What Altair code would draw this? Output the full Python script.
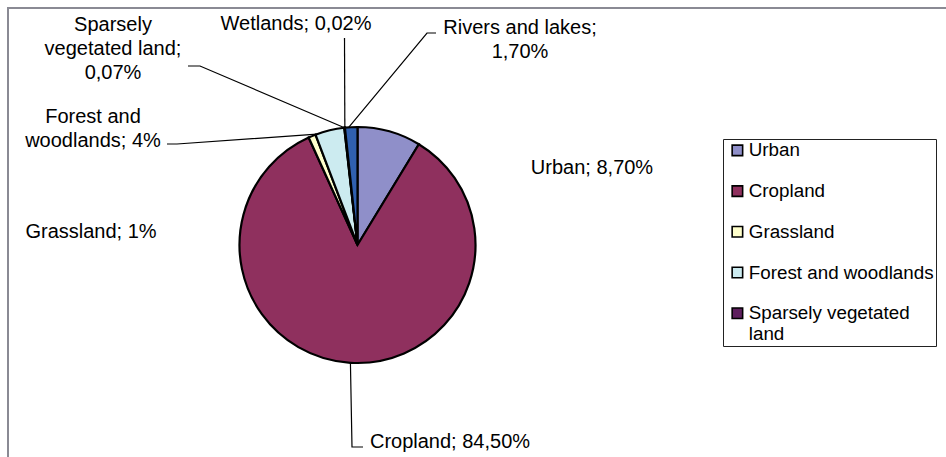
import math
import altair as alt
import pandas as pd

# ---------------- data ----------------
categories = ["Urban", "Cropland", "Grassland", "Forest and woodlands",
              "Sparsely vegetated land", "Wetlands", "Rivers and lakes"]
shares = [8.70, 84.50, 1.0, 4.0, 0.07, 0.02, 1.70]
label_texts = ["Urban; 8,70%", "Cropland; 84,50%", "Grassland; 1%",
               "Forest and\nwoodlands; 4%", "Sparsely\nvegetated land;\n0,07%",
               "Wetlands; 0,02%", "Rivers and lakes;\n1,70%"]
legend_items = categories[:5]
colors = ["#8F8FC9", "#8F305E", "#FFFFCC", "#CCEBF0", "#5E1F5E", "#FF8080", "#3060B0"]

# ---------------- layout (pixels) ----------------
W, H = 946, 457
CX, CY, R = 357.5, 245, 118
FONT = "Liberation Sans"
# label positions: centre x, centre y of first line
label_pos = {
    "Urban": (592, 168),
    "Cropland": (450, 442),
    "Grassland": (91, 232),
    "Forest and woodlands": (93, 117),
    "Sparsely vegetated land": (113, 25),
    "Wetlands": (296, 24),
    "Rivers and lakes": (520, 28),
}
# leader lines: points on label side, then attach fraction inside the slice
leaders = {
    "Cropland": ([(363, 447), (352, 447)], 0.5),
    "Forest and woodlands": ([(167, 144), (177, 144)], 0.05),
    "Sparsely vegetated land": ([(188, 66), (200, 66)], 0.5),
    "Wetlands": ([(344.5, 38)], 0.5),
    "Rivers and lakes": ([(436, 33), (427, 33)], 0.3),
}

total = sum(shares)
starts = []
acc = 0.0
for v in shares:
    starts.append(acc)
    acc += v

pie_df = pd.DataFrame({"category": categories, "share": shares,
                       "idx": list(range(len(categories)))})

lab_df = pd.DataFrame({
    "text": label_texts,
    "lx": [label_pos[c][0] for c in categories],
    "ly": [label_pos[c][1] for c in categories],
})

rows = []
for i, c in enumerate(categories):
    if c not in leaders:
        continue
    pts, frac = leaders[c]
    a = (starts[i] + frac * shares[i]) / total * 2 * math.pi
    sx, sy = CX + R * math.sin(a), CY - R * math.cos(a)
    allpts = pts + [(sx, sy)]
    for k, (px, py) in enumerate(allpts):
        rows.append({"leader": c, "k": k, "px": px, "py": py})
lead_df = pd.DataFrame(rows)

border = alt.Chart(pd.DataFrame({"a": [0]})).mark_rect(
    fill="white", stroke="#8A8A94", strokeWidth=2
).encode(x=alt.value(8), x2=alt.value(W + 40), y=alt.value(8), y2=alt.value(H + 40))

pie = alt.Chart(pie_df).mark_arc(
    radius=R, stroke="black", strokeWidth=2.2
).encode(
    theta=alt.Theta("share:Q", stack=True),
    order=alt.Order("idx:Q"),
    color=alt.Color(
        "category:N",
        scale=alt.Scale(domain=categories, range=colors),
        legend=alt.Legend(
            values=legend_items, title=None, orient="none",
            legendX=723, legendY=139,
            symbolType="square", symbolSize=110, symbolOffset=3,
            symbolStrokeColor="black", symbolStrokeWidth=1.6,
            labelFont=FONT, labelFontSize=18.8, labelColor="black",
            labelOffset=2, labelLimit=400, rowPadding=20.7,
            padding=2, strokeColor="#222222", fillColor="white",
            labelExpr="datum.label == 'Sparsely vegetated land' ? ['Sparsely vegetated', 'land'] : datum.label",
        ),
    ),
    x=alt.value(CX),
    y=alt.value(CY),
)

lines = alt.Chart(lead_df).mark_line(color="black", strokeWidth=1.2).encode(
    x=alt.X("px:Q", scale=None, axis=None),
    y=alt.Y("py:Q", scale=None, axis=None),
    detail="leader:N",
    order="k:Q",
)

labels = alt.Chart(lab_df).mark_text(
    font=FONT, fontSize=20, lineBreak="\n", lineHeight=24,
    align="center", baseline="middle", color="black"
).encode(
    x=alt.X("lx:Q", scale=None, axis=None),
    y=alt.Y("ly:Q", scale=None, axis=None),
    text="text:N",
)

chart = alt.layer(border, pie, lines, labels).properties(
    width=W, height=H, padding=0, autosize=alt.AutoSizeParams(type="none"),
    background="white",
).configure_view(stroke=None)

chart.save("out.html", embed_options={"renderer": "svg", "actions": False})
